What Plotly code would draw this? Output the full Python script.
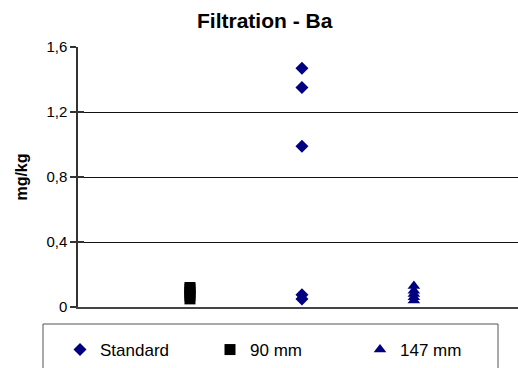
import plotly.graph_objects as go

# Data
series_names = ["Standard", "90 mm", "147 mm"]
x_positions = [2, 1, 3]  # category slot of each series
standard_vals = [1.47, 1.35, 0.99, 0.075, 0.05]
mm90_vals = [0.12, 0.11, 0.09, 0.07, 0.05]
mm147_vals = [0.13, 0.10, 0.08, 0.06, 0.04]
y_tick_vals = [0, 0.4, 0.8, 1.2, 1.6]
y_tick_text = ["0", "0,4", "0,8", "1,2", "1,6"]

values = [standard_vals, mm90_vals, mm147_vals]
symbols = ["diamond", "square", "triangle-up"]
colors = ["#000080", "#000000", "#000080"]
sizes = [10, 11, 11]

fig = go.Figure()
for name, xp, vals, sym, col, sz in zip(series_names, x_positions, values, symbols, colors, sizes):
    fig.add_trace(go.Scatter(
        x=[xp] * len(vals), y=vals, mode="markers", name=name,
        marker=dict(symbol=sym, color=col, size=sz, line=dict(width=0)),
    ))

# invisible trace to activate an overlay axis carrying the inner half of the crossing ticks
fig.add_trace(go.Scatter(x=[None], y=[None], yaxis="y2", showlegend=False, hoverinfo="skip"))

L, T, B = 78, 47, 61
PW, PH = 518 - L, 368 - T - B

fig.update_layout(
    width=518, height=368,
    margin=dict(l=L, r=0, t=T, b=B, autoexpand=False),
    paper_bgcolor="white", plot_bgcolor="white",
    font=dict(family="Liberation Sans, Arial, sans-serif", size=15, color="black"),
    title=dict(text="<b>Filtration - Ba</b>", x=264.7 / 518, xref="container", xanchor="center",
               y=1 - 21 / 368, yref="container", yanchor="middle", font=dict(size=21)),
    showlegend=True,
    legend=dict(orientation="h", x=(60 - L) / PW, xanchor="left", y=(307 - 332) / PH, yanchor="top",
                borderwidth=0, bgcolor="rgba(0,0,0,0)", entrywidth=105,
                font=dict(size=17), itemwidth=30),
    xaxis=dict(range=[0, 3.93], showgrid=False, zeroline=False, showticklabels=False,
               ticks="", showline=True, linecolor="#444444", linewidth=2, fixedrange=True),
    yaxis=dict(range=[0, 1.6], tickvals=y_tick_vals, ticktext=y_tick_text,
               showgrid=True, gridcolor="#111111", gridwidth=1, zeroline=False,
               showline=True, linecolor="#333333", linewidth=1.5,
               ticks="outside", ticklen=6, tickcolor="#333333", tickwidth=1.5,
               title=dict(text="<b>mg/kg</b>", font=dict(size=16)),
               automargin=False, fixedrange=True),
    yaxis2=dict(range=[0, 1.6], tickvals=y_tick_vals, overlaying="y", side="left",
                showgrid=False, zeroline=False, showticklabels=False, showline=False,
                ticks="inside", ticklen=6, tickcolor="#333333", tickwidth=1.5, fixedrange=True),
    shapes=[dict(type="rect", xref="paper", yref="paper",
                 x0=(43 - L) / PW, x1=(498 - L) / PW,
                 y0=(307 - 380) / PH, y1=(307 - 324) / PH,
                 line=dict(color="#555555", width=1), fillcolor="rgba(0,0,0,0)")],
)

fig.write_html("out.html", config={"displayModeBar": False},
               post_script="document.body.style.margin='0';")
